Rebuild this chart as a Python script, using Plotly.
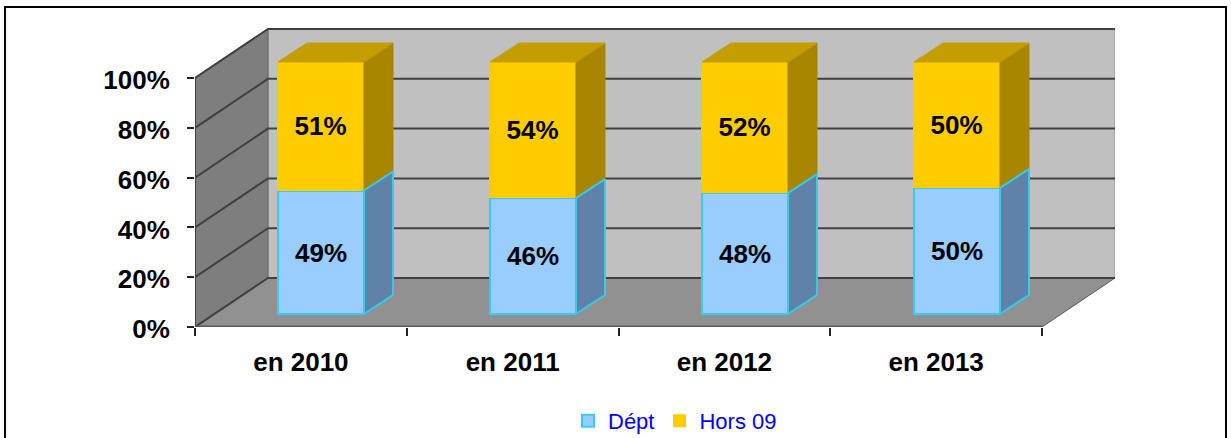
import plotly.graph_objects as go

categories = ["en 2010", "en 2011", "en 2012", "en 2013"]
dept = [49, 46, 48, 50]
hors = [51, 54, 52, 50]
y_ticks = [0, 20, 40, 60, 80, 100]
y_tick_labels = ["0%", "20%", "40%", "60%", "80%", "100%"]

W, H = 1231, 438
FONT = "Liberation Sans"
BLACK = "#000000"

# Plot box in the page
L, R, T, B = 195, 1115, 28, 327
cat_px = 211.75          # width of one category on the front axis
pct_px = 2.49            # px per percent on the front axis
depth_px = (73, 49)      # wall depth
bar_pct_px = 2.52        # bars stand slightly nearer the viewer
bar_x0, bar_y0 = 321, 314   # centre of the first bar / foot of bars
bar_step = 212
bar_w = 86 / bar_step
bar_depth = (29 / bar_step, 19 / bar_pct_px)

xmax = (R - L) / cat_px
ymax = (B - T) / pct_px
dx, dy = depth_px[0] / cat_px, depth_px[1] / pct_px
n = len(categories)

fig = go.Figure()


def poly(xs, ys, fill, line=None, width=1, xa="x", ya="y"):
    fig.add_trace(go.Scatter(x=xs, y=ys, mode="lines", fill="toself" if fill else None,
                             fillcolor=fill, line=dict(color=line or "rgba(0,0,0,0)", width=width),
                             showlegend=False, hoverinfo="skip", xaxis=xa, yaxis=ya))


# Walls and floor
poly([dx, xmax, xmax, dx, dx], [dy, dy, 100 + dy, 100 + dy, dy], "#C0C0C0", "#A8A8A8", 2)
poly([0, dx, dx, 0, 0], [0, dy, 100 + dy, 100, 0], "#7E7E7E", "#666666", 1)
poly([0, n, n + dx, dx, 0], [0, 0, dy, dy, 0], "#919191", "#5A5A5A", 1)

# Gridlines on both walls
gx, gy = [], []
for v in y_ticks:
    gx += [0, dx, xmax, None]
    gy += [v, v + dy, v + dy, None]
poly(gx, gy, None, "#404040", 2)
poly([0, 0], [0, 100], None, "#404040", 2)
poly([0, n], [0, 0], None, "#5A5A5A", 3)

label_font = dict(family=FONT, size=26, color=BLACK, weight=700)

# Bars, front faces
fig.add_trace(go.Bar(x=list(range(n)), y=dept, name="Dépt", width=bar_w, xaxis="x2", yaxis="y2",
                     marker=dict(color="#99CCFF", line=dict(color="#33CCFF", width=2)),
                     text=[f"{v}%" for v in dept], textposition="inside", insidetextanchor="middle",
                     insidetextfont=label_font, constraintext="none", hoverinfo="skip"))
fig.add_trace(go.Bar(x=list(range(n)), y=hors, name="Hors 09", width=bar_w, xaxis="x2", yaxis="y2",
                     marker=dict(color="#FFCC00", line=dict(color="#FFCC00", width=1)),
                     text=[f"{v}%" for v in hors], textposition="inside", insidetextanchor="middle",
                     insidetextfont=label_font, constraintext="none", hoverinfo="skip"))

# Bars, side and top faces
ddx, ddy = bar_depth
sx1, sy1, sx2, sy2, tx, ty = [], [], [], [], [], []
for i in range(n):
    r = i + bar_w / 2
    l = i - bar_w / 2
    a, b = dept[i], dept[i] + hors[i]
    sx1 += [r, r + ddx, r + ddx, r, r, None]
    sy1 += [0, ddy, a + ddy, a, 0, None]
    sx2 += [r, r + ddx, r + ddx, r, r, None]
    sy2 += [a, a + ddy, b + ddy, b, a, None]
    tx += [l, r, r + ddx, l + ddx, l, None]
    ty += [b, b, b + ddy, b + ddy, b, None]
poly(sx2, sy2, "#A88600", "#A88600", 1, "x2", "y2")
poly(sx1, sy1, "#6082A8", "#33CCEE", 2, "x2", "y2")
poly(tx, ty, "#C49E00", "#C49E00", 1, "x2", "y2")

dom_x = [L / W, R / W]
dom_y = [1 - B / H, 1 - T / H]

fig.update_layout(
    width=W, height=H, autosize=False,
    margin=dict(l=0, r=0, t=0, b=0, pad=0, autoexpand=False),
    paper_bgcolor="#FFFFFF", plot_bgcolor="rgba(0,0,0,0)",
    barmode="stack", bargap=0,
    font=dict(family=FONT, size=25, color=BLACK, weight=700),
    xaxis=dict(domain=dom_x, range=[0, xmax], tickmode="array",
               tickvals=[i + 0.5 for i in range(n)], ticktext=categories, ticks="",
               ticklabelstandoff=17, tickfont=label_font, showgrid=False, zeroline=False,
               showline=False, automargin=False,
               minor=dict(tickmode="array", tickvals=list(range(n + 1)), ticks="outside",
                          ticklen=8, tickwidth=2, tickcolor="#222222", showgrid=False)),
    yaxis=dict(domain=dom_y, range=[0, ymax], tickmode="array", tickvals=y_ticks,
               ticktext=y_tick_labels, ticks="outside", ticklen=7, tickwidth=2, tickcolor="#222222",
               ticklabelstandoff=12, ticklabelshift=2, tickfont=label_font, showgrid=False,
               zeroline=False, showline=False, automargin=False),
    xaxis2=dict(overlaying="x", domain=dom_x, anchor="y2",
                range=[(L - bar_x0) / bar_step, (R - bar_x0) / bar_step], visible=False),
    yaxis2=dict(overlaying="y", domain=dom_y, anchor="x2",
                range=[(bar_y0 - B) / bar_pct_px, (bar_y0 - T) / bar_pct_px], visible=False),
    legend=dict(orientation="h", xanchor="left", yanchor="middle", x=568 / W, y=1 - 421 / H,
                font=dict(family=FONT, size=22, color="#0000FF", weight=400),
                bgcolor="rgba(0,0,0,0)", itemwidth=30, traceorder="normal"),
    shapes=[dict(type="rect", xref="paper", yref="paper", x0=5 / W, x1=1226 / W,
                 y0=-0.02, y1=1 - 7 / H, line=dict(color=BLACK, width=2),
                 fillcolor="rgba(0,0,0,0)", layer="below")],
)

fig.write_html("out.html", default_width="1231px", default_height="438px",
               config=dict(displayModeBar=False, responsive=False),
               post_script="document.body.style.margin='0';document.documentElement.style.overflow='hidden';")
